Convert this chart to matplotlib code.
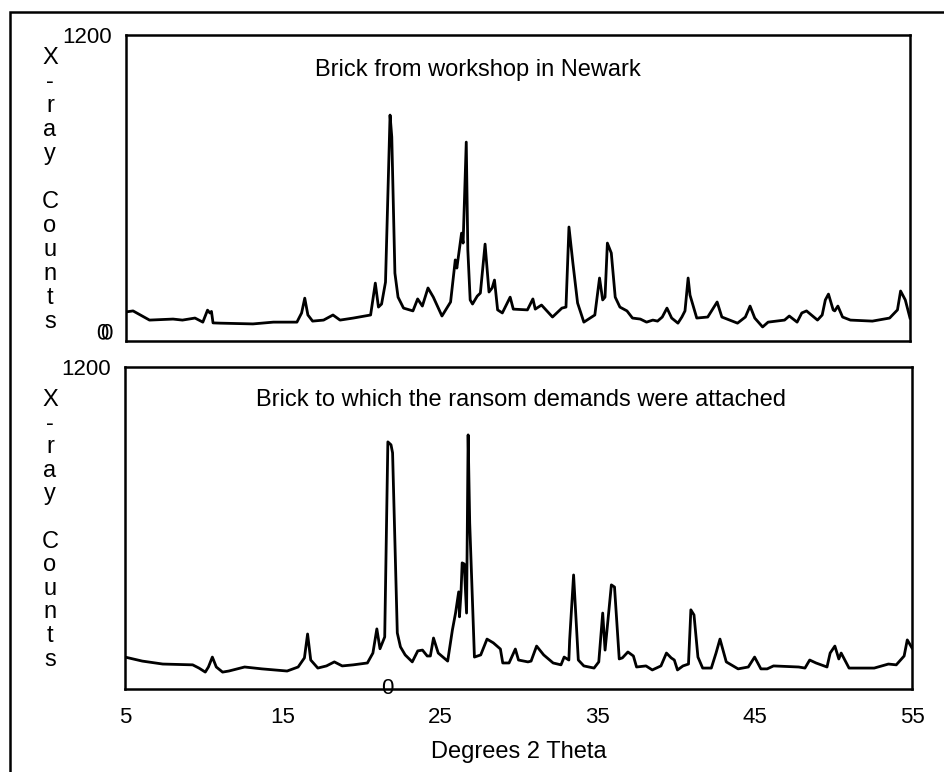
import matplotlib.pyplot as plt
import matplotlib.patheffects as pe
from matplotlib.patches import Rectangle

plt.rcParams['font.family'] = ['Liberation Sans', 'DejaVu Sans']

# X-ray diffraction traces (degrees 2 theta, counts)
two_theta_newark = [5.0, 5.45, 6.5, 8.0, 8.6, 9.4, 9.9, 10.2, 10.35, 10.45, 10.55, 11.0, 13.1, 14.4,
                    15.9, 16.2, 16.4, 16.6, 16.9, 17.6, 18.2, 18.65, 19.5, 20.6, 20.9, 21.1, 21.3,
                    21.55, 21.84, 21.95, 22.15, 22.35, 22.7, 23.3, 23.6, 23.9, 24.26, 24.6, 25.15,
                    25.7, 26.0, 26.1, 26.4, 26.5, 26.7, 26.8, 26.95, 27.1, 27.4, 27.6, 27.9, 28.15,
                    28.35, 28.5, 28.7, 29.0, 29.5, 29.7, 30.6, 30.95, 31.1, 31.5, 32.2, 32.8, 33.06,
                    33.25, 33.5, 33.8, 34.2, 34.9, 35.2, 35.4, 35.55, 35.7, 35.95, 36.2, 36.5, 36.95,
                    37.3, 37.8, 38.2, 38.6, 38.9, 39.2, 39.5, 39.8, 40.2, 40.45, 40.65, 40.85, 40.97,
                    41.4, 42.1, 42.7, 43.0, 44.0, 44.5, 44.8, 45.1, 45.6, 45.95, 47.0, 47.3, 47.8,
                    48.1, 48.4, 49.1, 49.4, 49.6, 49.8, 50.1, 50.2, 50.4, 50.7, 51.2, 52.6, 53.7,
                    54.2, 54.4, 54.7, 55.0]
counts_newark = [114, 118, 82, 86, 82, 90, 74, 121, 110, 116, 71, 70, 67, 74,
                 74, 110, 168, 102, 78, 82, 102, 82, 90, 102, 227, 133, 145,
                 231, 886, 800, 266, 172, 129, 118, 165, 137, 208, 172, 98,
                 153, 318, 286, 423, 384, 780, 357, 161, 145, 176, 188, 380, 192,
                 208, 239, 122, 110, 172, 125, 122, 165, 125, 141, 94, 129, 133,
                 447, 306, 149, 74, 102, 247, 161, 172, 384, 345, 172, 133, 118,
                 90, 86, 74, 82, 78, 94, 129, 90, 70, 94, 118, 247, 180,
                 90, 94, 153, 94, 70, 94, 137, 90, 55, 74, 82, 98, 74,
                 110, 118, 82, 102, 161, 184, 122, 118, 137, 94, 82, 78, 90,
                 122, 196, 161, 90]

two_theta_ransom = [5.0, 6.1, 7.4, 9.3, 9.7, 10.1, 10.3, 10.55, 10.8, 11.2, 11.6, 12.6, 13.7, 15.3,
                    16.0, 16.4, 16.6, 16.8, 17.25, 17.8, 18.3, 18.8, 19.5, 20.4, 20.75, 21.0, 21.2,
                    21.5, 21.7, 21.9, 22.0, 22.3, 22.5, 22.8, 23.25, 23.6, 23.9, 24.2, 24.4, 24.6,
                    24.9, 25.5, 25.8, 26.0, 26.2, 26.25, 26.35, 26.42, 26.55, 26.7, 26.8, 26.9,
                    27.2, 27.6, 28.0, 28.4, 28.85, 29.0, 29.4, 29.8, 30.0, 30.6, 30.8, 31.15, 31.6,
                    32.2, 32.7, 32.9, 33.2, 33.25, 33.5, 33.8, 34.15, 34.8, 35.1, 35.35, 35.5, 35.9,
                    36.1, 36.4, 36.6, 36.95, 37.3, 37.5, 38.1, 38.5, 39.05, 39.4, 39.7, 39.9, 40.1,
                    40.45, 40.8, 40.95, 41.15, 41.4, 41.7, 42.25, 42.55, 42.8, 43.2, 43.95, 44.6,
                    45.0, 45.4, 45.8, 46.2, 47.8, 48.2, 48.5, 48.9, 49.6, 49.8, 50.1, 50.35, 50.5,
                    51.0, 52.6, 53.5, 54.0, 54.5, 54.7, 55.0]
counts_ransom = [119, 104, 93, 90, 78, 63, 82, 119, 82, 63, 67, 82, 75, 67,
                 82, 116, 205, 108, 78, 86, 101, 86, 90, 97, 134, 224, 150,
                 194, 921, 910, 880, 209, 157, 127, 101, 142, 145, 123, 123, 190,
                 134, 104, 220, 283, 362, 269, 362, 470, 466, 283, 947, 619,
                 119, 127, 186, 172, 149, 97, 97, 149, 108, 101, 104, 160, 127,
                 97, 90, 119, 108, 183, 425, 108, 86, 78, 101, 283, 145, 388,
                 380, 112, 116, 138, 123, 82, 86, 71, 86, 134, 116, 108, 71,
                 86, 93, 295, 276, 119, 78, 78, 134, 186, 101, 75, 82,
                 119, 75, 75, 86, 82, 78, 108, 97, 82, 134, 160, 112, 134,
                 78, 78, 93, 90, 123, 183, 153]

x_ticks = [5, 15, 25, 35, 45, 55]
titles = ["Brick from workshop in Newark", "Brick to which the ransom demands were attached"]
ylabel_letters = ["X", "-", "r", "a", "y", "", "C", "o", "u", "n", "t", "s"]

W, H = 945, 772
fig = plt.figure(figsize=(W / 100, H / 100), dpi=100)

# outer frame (clipped at the right and bottom like the scan)
fig.patches.append(Rectangle((10 / W, -0.05), 1.0, 1 - 12 / H + 0.05, transform=fig.transFigure,
                             fill=False, lw=1.8, ec='black'))

ax1 = fig.add_axes([126 / W, 1 - 341 / H, 784 / W, 306 / H])
ax2 = fig.add_axes([125 / W, 1 - 689 / H, 787 / W, 322 / H])

ax1.plot(two_theta_newark, counts_newark, color='black', lw=2.0)
ax2.plot(two_theta_ransom, counts_ransom, color='black', lw=2.0)

for ax in (ax1, ax2):
    ax.set_xlim(5, 55)
    ax.set_ylim(0, 1200)
    ax.set_yticks([1200])
    ax.set_yticklabels(["1200"])
    ax.tick_params(axis='y', length=0, pad=10, labelsize=16)
    for s in ax.spines.values():
        s.set_linewidth(1.8)

ax1.set_xticks([])
ax2.set_xticks(x_ticks)
ax2.set_xticklabels([str(t) for t in x_ticks])
ax2.tick_params(axis='x', length=0, pad=13, labelsize=16)
ax2.set_xlabel("Degrees 2 Theta", fontsize=17, labelpad=9)

ax1.text(0.449, 0.886, titles[0], transform=ax1.transAxes, ha='center', va='center', fontsize=17)
ax2.text(0.503, 0.897, titles[1], transform=ax2.transAxes, ha='center', va='center', fontsize=17)

# stray zero labels as they appear in the original (the top one printed twice, offset)
ax1.text(-0.016, 0.023, "0", transform=ax1.transAxes, ha='right', va='center', fontsize=16,
         path_effects=[pe.SimplePatchShadow(offset=(-3, 0), shadow_rgbFace='black', alpha=1),
                       pe.Normal()])
ax2.text(21.65, 0, "0", ha='center', va='center', fontsize=16, clip_on=False)

# stacked vertical y labels
for top_px, step in ((58, 24.0), (400, 23.6)):
    for i, ch in enumerate(ylabel_letters):
        fig.text(50 / W, 1 - (top_px + i * step) / H, ch, ha='center', va='center', fontsize=17)

fig.savefig("out.png", dpi=100)
